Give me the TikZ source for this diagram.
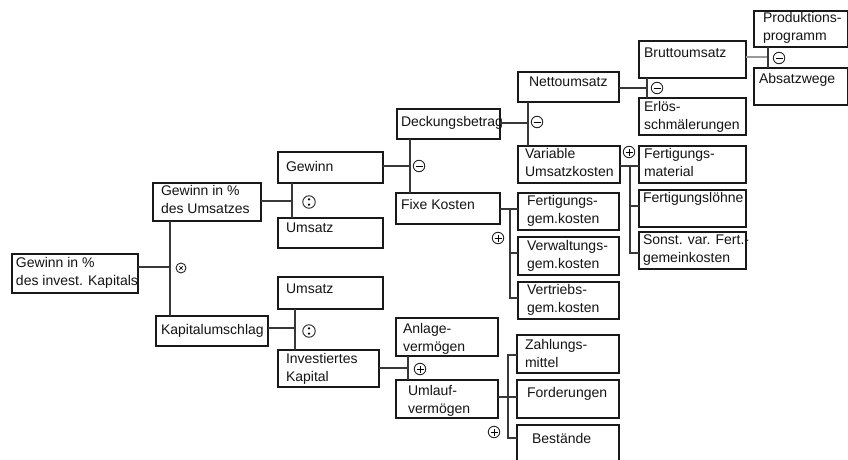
\documentclass[tikz,border=0pt]{standalone}
\usepackage{fontspec}
\setmainfont{Liberation Sans}
\usetikzlibrary{calc}
\newcommand\txtfont{\fontsize{14}{18}\selectfont}
\newcommand\bx[8]{%
  \node[box, minimum width={#4-#2}, minimum height={#5-#3}, anchor=north west] (#1) at (#2,#3) {};
  \node[txt, anchor=north west] (#1t) at ({#2+#6},{#3+#7-12.6}) {\strut #8};}
\tikzset{
  box/.style={draw=black!90, line width=1.2pt, inner sep=0pt, outer sep=0pt, fill=white},
  txt/.style={inner sep=0pt, outer sep=0pt, align=left, font=\txtfont, text=black!92},
  con/.style={draw=black!78, line width=1.2pt},
  gcon/.style={draw=black!40, line width=1.8pt},
  sym/.style={circle, draw=black!85, line width=0.9pt, minimum size=11.5pt, inner sep=0pt, fill=white},
  splus/.style={sym, path picture={
     \draw[black, line width=0.9pt] ([xshift=-3.5pt]path picture bounding box.center) -- ([xshift=3.5pt]path picture bounding box.center);
     \draw[black, line width=0.9pt] ([yshift=-3.5pt]path picture bounding box.center) -- ([yshift=3.5pt]path picture bounding box.center);}},
  sminus/.style={sym, path picture={
     \draw[black, line width=0.9pt] ([xshift=-3.5pt]path picture bounding box.center) -- ([xshift=3.5pt]path picture bounding box.center);}},
  stimes/.style={sym, minimum size=10pt, path picture={
     \draw[black, line width=0.7pt] ([shift={(-1.7pt,-1.7pt)}]path picture bounding box.center) -- ([shift={(1.7pt,1.7pt)}]path picture bounding box.center);
     \draw[black, line width=0.7pt] ([shift={(-1.7pt,1.7pt)}]path picture bounding box.center) -- ([shift={(1.7pt,-1.7pt)}]path picture bounding box.center);}},
  sdiv/.style={sym, minimum size=12.5pt, path picture={
     \fill[black] ([yshift=2.6pt]path picture bounding box.center) circle (1.3pt);
     \fill[black] ([yshift=-2.6pt]path picture bounding box.center) circle (1.3pt);}},
}
\begin{document}
\begin{tikzpicture}[x=1pt,y=-1pt]
\useasboundingbox[fill=white] (0,0) rectangle (848,460);
\coordinate (j1) at (170,267);
\coordinate (j2) at (292,201);
\coordinate (j3) at (295,328);
\coordinate (j4) at (410,166);
\coordinate (j5) at (528,123);
\coordinate (j6) at (647,88);
\coordinate (j7) at (768,57);
\coordinate (j8) at (630,166);
\coordinate (j9) at (510,209);
\coordinate (j10) at (408,368);
\coordinate (j11) at (508,397);

% boxes
\bx{g1}{12}{254}{138}{293}{4}{13}{Gewinn in \%\\des invest. Kapitals}
\bx{gU}{153}{183}{261}{221}{8}{12}{Gewinn in \%\\des Umsatzes}
\bx{KU}{156}{316}{268}{346}{5}{18}{Kapitalumschlag}
\bx{gew}{278}{152}{383}{183}{8}{19}{Gewinn}
\bx{ums1}{278}{218}{383}{248}{8}{14}{Umsatz}
\bx{ums2}{278}{277}{383}{309}{8}{16}{Umsatz}
\bx{ik}{278}{350}{379}{387}{8}{13}{Investiertes\\Kapital}
\bx{fk}{396}{193}{500}{224}{5}{16}{Fixe Kosten}
\bx{av}{396}{318}{498}{356}{7}{15}{Anlage-\\vermögen}
\bx{uv}{396}{380}{498}{418}{12}{15}{Umlauf-\\vermögen}
\bx{nu}{518}{72}{619}{102}{11}{14}{Nettoumsatz}
\bx{vu}{518}{146}{620}{183}{7}{12}{Variable\\Umsatzkosten}
\bx{fg}{518}{193}{619}{230}{9}{12}{Fertigungs-\\gem.kosten}
\bx{vw}{518}{237}{619}{275}{9}{13}{Verwaltungs-\\gem.kosten}
\bx{vt}{518}{282}{619}{319}{9}{12}{Vertriebs-\\gem.kosten}
\bx{zm}{517}{335}{619}{373}{8}{14}{Zahlungs-\\mittel}
\bx{fo}{517}{380}{619}{418}{10}{17}{Forderungen}
\bx{be}{517}{425}{619}{466}{15}{18}{Bestände}
\bx{bu}{639}{41}{746}{78}{5}{17}{Bruttoumsatz}
\bx{es}{639}{98}{746}{135}{5}{13}{Erlös-\\schmälerungen}
\bx{fm}{639}{146}{746}{183}{5}{12}{Fertigungs-\\material}
\bx{fl}{639}{190}{746}{227}{4}{12}{Fertigungslöhne}
\bx{sv}{639}{232}{746}{269}{4}{12}{Sonst. var. Fert.-\\gemeinkosten}
\bx{pp}{754}{11}{847.5}{47}{9}{12}{Produktions-\\programm}
\bx{aw}{754}{68}{847.5}{105}{5}{15}{Absatzwege}
\bx{db}{397}{109}{500}{139}{4}{17}{Deckungsbetrag}

% connectors
\draw[con] (g1.east |- j1) -- (j1);
\draw[con] (gU.south -| j1) -- (KU.north -| j1);
\draw[con] (gU.east |- j2) -- (j2);
\draw[con] (gew.south -| j2) -- (ums1.north -| j2);
\draw[con] (KU.east |- j3) -- (j3);
\draw[con] (ums2.south -| j3) -- (ik.north -| j3);
\draw[con] (gew.east |- j4) -- (j4);
\draw[con] (db.south -| j4) -- (fk.north -| j4);
\draw[con] (db.east |- j5) -- (j5);
\draw[con] (nu.south -| j5) -- (vu.north -| j5);
\draw[con] (nu.east |- j6) -- (j6);
\draw[con] (bu.south -| j6) -- (es.north -| j6);
\draw[gcon] (bu.east |- j7) -- (j7);
\draw[con] (pp.south -| j7) -- (aw.north -| j7);
\draw[con] (vu.east |- j8) -- (fm.west |- j8);
\draw[con] (j8) -- (j8 |- 0,253) -- (sv.west |- 0,253);
\draw[con] (fl.west |- 0,206) -- (j8 |- 0,206);
\draw[con] (fk.east |- j9) -- (fg.west |- j9);
\draw[con] (j9) -- (j9 |- 0,298) -- (vt.west |- 0,298);
\draw[con] (vw.west |- 0,253) -- (j9 |- 0,253);
\draw[con] (ik.east |- j10) -- (j10);
\draw[con] (av.south -| j10) -- (uv.north -| j10);
\draw[con] (uv.east |- j11) -- (fo.west |- j11);
\draw[con] (zm.west |- 0,355) -- (j11 |- 0,355) -- (j11 |- 0,438) -- (be.west |- 0,438);

% operator symbols
\node[stimes] (s1) at (181,268) {};
\node[sdiv] (s2) at (309,202) {};
\node[sdiv] (s3) at (309,331) {};
\node[sminus] (s4) at (419,166) {};
\node[sminus] (s5) at (537,122) {};
\node[sminus] (s6) at (657,88) {};
\node[sminus] (s7) at (779,58) {};
\node[splus] (s8) at (629,152) {};
\node[splus] (s9) at (498,238) {};
\node[splus] (s10) at (420,369) {};
\node[splus] (s11) at (494,432) {};
\end{tikzpicture}
\end{document}
